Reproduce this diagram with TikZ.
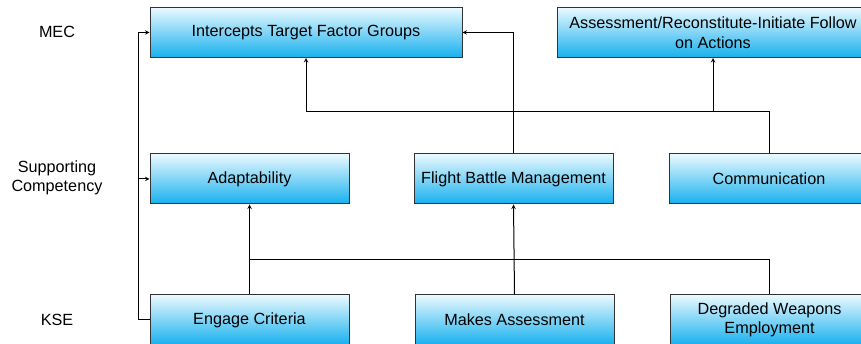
\documentclass[tikz,border=0pt]{standalone}
\usepackage{fontspec}
\setmainfont{Liberation Sans}
\usetikzlibrary{positioning,calc}
\definecolor{boxtop}{RGB}{234,249,254}
\definecolor{boxbot}{RGB}{22,176,238}
\tikzstyle{block} = [draw=black!80, line width=1pt, top color=boxtop, bottom color=boxbot,
  minimum height=50pt, align=center, inner sep=2pt, font=\fontsize{16.2}{19.5}\selectfont]
\tikzstyle{arrow} = [line width=1pt, ->, >=stealth]
\tikzstyle{line} = [line width=1pt]
\tikzstyle{level} = [align=center, font=\fontsize{16.2}{19.5}\selectfont]

\begin{document}
\begin{tikzpicture}[x=1pt,y=1pt]
\useasboundingbox (0,0) rectangle (861,344);

% row labels
\node[level] (mec) at (57,312) {MEC};
\node[level] (sup) at (57,166) {Supporting\\Competency};
\node[level] (kse) at (57,24) {KSE};

% MEC row
\node[block, minimum width=312pt] (intercepts) at (306,311.5) {Intercepts Target Factor Groups};
\node[block, minimum width=312pt] (assess) at (713,311.5) {Assessment/Reconstitute-Initiate Follow\\on Actions};

% supporting competencies
\node[block, minimum width=199pt] (adapt) at (249.5,165) {Adaptability};
\node[block, minimum width=199pt] (fbm) at (513.5,165) {Flight Battle Management};
\node[block, minimum width=199pt] (comm) at (769,165) {Communication};

% KSE row
\node[block, minimum width=199pt] (engage) at (249.5,24) {Engage Criteria};
\node[block, minimum width=199pt] (makes) at (514.5,24) {Makes Assessment};
\node[block, minimum width=199pt] (degraded) at (769.5,24) {Degraded Weapons\\Employment};

% bus lines
\coordinate (leftbus) at (138,0);
\coordinate (lowbus) at (249.5,84);
\coordinate (midbus) at (306,232);

% engage criteria feeds both levels on the left
\draw[line] (engage.west) -- (engage.west -| leftbus) -- (leftbus |- intercepts.west);
\draw[arrow] (leftbus |- intercepts.west) -- (intercepts.west);
\draw[arrow] (leftbus |- adapt.west) -- (adapt.west);
\draw[arrow] (engage.north) -- (adapt.south);
\draw[line] (degraded.north) |- (lowbus);

\draw[arrow] (makes.north) -- (fbm.south);
\draw[arrow] (fbm.north) |- (intercepts.east);

% communication
\draw[line] (comm.north) |- (midbus);
\draw[arrow] (midbus) -- (intercepts.south);
\draw[arrow] (assess.south |- midbus) -- (assess.south);
\end{tikzpicture}
\end{document}
